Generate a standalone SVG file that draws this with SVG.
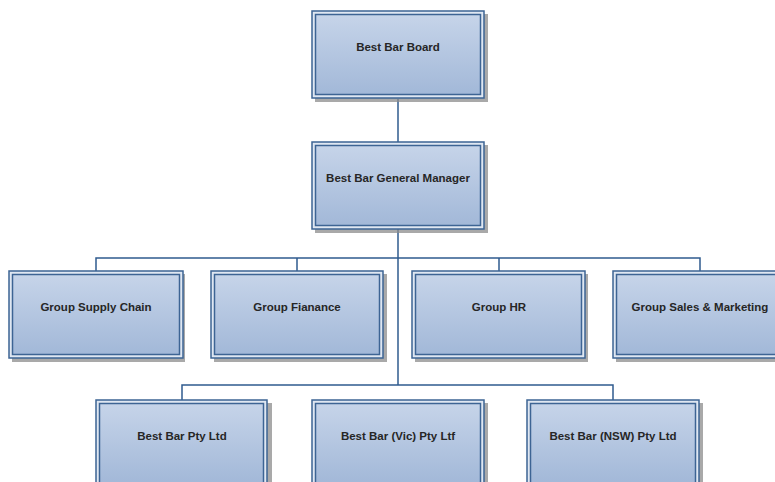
<svg xmlns="http://www.w3.org/2000/svg" width="775" height="482" viewBox="0 0 775 482">
<defs>
<linearGradient id="g" x1="0" y1="0" x2="0" y2="1">
<stop offset="0" stop-color="#c6d4e9"/>
<stop offset="1" stop-color="#a2b8d8"/>
</linearGradient>
<style>
.sh{fill:#8c8c8c;opacity:0.75}
.o{fill:#dfe7f2;stroke:#3d6494;stroke-width:1.5}
.i{fill:url(#g);stroke:#3d6494;stroke-width:1.5}
.t{font-family:"Liberation Sans",Arial,sans-serif;font-weight:bold;font-size:11.5px;fill:#262626;text-anchor:middle}
.c{fill:none;stroke:#2f5b8e;stroke-width:1.5}
</style>
</defs>
<rect width="775" height="482" fill="#ffffff"/>
<g id="connectors">
<path class="c" d="M398 99V142"/>
<path class="c" d="M398 229V385"/>
<path class="c" d="M96 271V258H700V271"/>
<path class="c" d="M297 258V271M499 258V271"/>
<path class="c" d="M182 400V385H613V400"/>
</g>
<g id="board">
<rect class="sh" x="315" y="14" width="173" height="88"/>
<rect class="o" x="312" y="11" width="172" height="87"/>
<rect class="i" x="315.5" y="14.5" width="165" height="80"/>
<text class="t" x="398" y="51">Best Bar Board</text>
</g>
<g id="gm">
<rect class="sh" x="315" y="145" width="173" height="88"/>
<rect class="o" x="312" y="142" width="172" height="87"/>
<rect class="i" x="315.5" y="145.5" width="165" height="80"/>
<text class="t" x="398" y="182">Best Bar General Manager</text>
</g>
<g id="supply">
<rect class="sh" x="12" y="274" width="173" height="88"/>
<rect class="o" x="9" y="271" width="174" height="87"/>
<rect class="i" x="12.5" y="274.5" width="167" height="80"/>
<text class="t" x="96" y="311">Group Supply Chain</text>
</g>
<g id="finance">
<rect class="sh" x="214" y="274" width="173" height="88"/>
<rect class="o" x="211" y="271" width="172" height="87"/>
<rect class="i" x="214.5" y="274.5" width="165" height="80"/>
<text class="t" x="297" y="311">Group Fianance</text>
</g>
<g id="hr">
<rect class="sh" x="415" y="274" width="173" height="88"/>
<rect class="o" x="412" y="271" width="173" height="87"/>
<rect class="i" x="415.5" y="274.5" width="166" height="80"/>
<text class="t" x="499" y="311">Group HR</text>
</g>
<g id="sales">
<rect class="sh" x="616" y="274" width="173" height="88"/>
<rect class="o" x="613" y="271" width="174" height="87"/>
<rect class="i" x="616.5" y="274.5" width="167" height="80"/>
<text class="t" x="700" y="311">Group Sales &amp; Marketing</text>
</g>
<g id="pty">
<rect class="sh" x="99" y="403" width="173" height="88"/>
<rect class="o" x="96" y="400" width="171" height="87"/>
<rect class="i" x="99.5" y="403.5" width="164" height="80"/>
<text class="t" x="182" y="440">Best Bar Pty Ltd</text>
</g>
<g id="vic">
<rect class="sh" x="315" y="403" width="173" height="88"/>
<rect class="o" x="312" y="400" width="172" height="87"/>
<rect class="i" x="315.5" y="403.5" width="165" height="80"/>
<text class="t" x="398" y="440">Best Bar (Vic) Pty Ltf</text>
</g>
<g id="nsw">
<rect class="sh" x="530" y="403" width="173" height="88"/>
<rect class="o" x="527" y="400" width="172" height="87"/>
<rect class="i" x="530.5" y="403.5" width="165" height="80"/>
<text class="t" x="613" y="440">Best Bar (NSW) Pty Ltd</text>
</g>
</svg>
